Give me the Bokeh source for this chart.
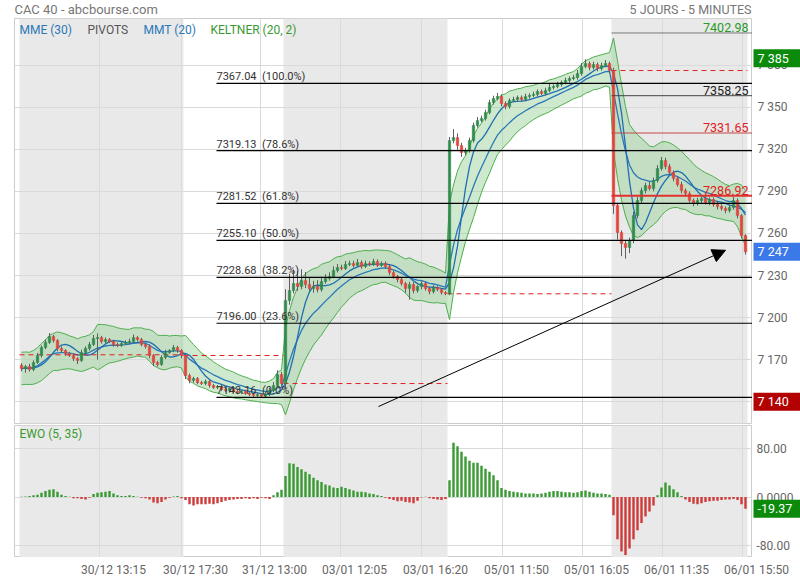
from bokeh.plotting import figure
from bokeh.models import (Range1d, FixedTicker, BoxAnnotation, Label, Arrow,
                          NormalHead, ColumnDataSource)
from bokeh.layouts import column, row
from bokeh.embed import file_html
from bokeh.resources import INLINE
from bokeh.core.properties import value

FONT = "Roboto"

# ---------------- data ----------------
day_sizes = [41, 25, 41, 41, 34]          # 5-minute bars per session (coarsened)
first_open = 7166.0
prev_close_first_day = 7173.5

close_d1 = [7163.7, 7165.1, 7163.0, 7168.0, 7173.0, 7178.7, 7182.3, 7186.5, 7183.7, 7178.0,
            7176.5, 7174.4, 7173.0, 7170.8, 7169.4, 7175.1, 7178.0, 7180.8, 7185.1, 7185.8,
            7183.0, 7184.4, 7183.0, 7180.8, 7180.1, 7181.5, 7182.3, 7183.0, 7185.8, 7184.4,
            7180.8, 7179.4, 7173.0, 7168.0, 7166.6, 7171.6, 7175.1, 7176.5, 7178.7, 7176.5,
            7173.0]
close_d2 = [7158.7, 7155.2, 7156.6, 7153.7, 7153.0, 7154.4, 7151.6, 7150.2, 7150.9, 7148.7,
            7148.0, 7149.5, 7147.3, 7146.6, 7147.3, 7145.9, 7145.2, 7144.5, 7145.2, 7144.0,
            7145.5, 7148.0, 7151.6, 7159.4, 7153.0]
close_d3 = [7212.2, 7219.3, 7224.3, 7222.2, 7226.5, 7223.6, 7220.8, 7222.2, 7220.0, 7225.7,
            7227.9, 7229.3, 7233.6, 7235.7, 7235.0, 7237.9, 7238.6, 7237.2, 7239.3, 7236.4,
            7238.6, 7237.9, 7240.0, 7237.2, 7238.6, 7236.4, 7232.2, 7229.3, 7227.2, 7224.3,
            7220.8, 7223.6, 7219.3, 7222.2, 7224.3, 7220.8, 7218.6, 7221.5, 7220.0, 7217.9,
            7217.0]
close_d4 = [7326.3, 7328.4, 7322.7, 7317.7, 7319.1, 7326.3, 7337.0, 7340.5, 7342.0, 7346.2,
            7353.4, 7356.2, 7357.7, 7352.7, 7350.5, 7354.8, 7355.5, 7356.9, 7355.5, 7357.7,
            7358.4, 7359.1, 7361.2, 7359.8, 7361.9, 7364.1, 7364.8, 7366.2, 7367.6, 7369.1,
            7370.5, 7371.2, 7374.1, 7379.0, 7381.2, 7378.3, 7380.5, 7377.6, 7379.8, 7381.2,
            7376.2]
close_d5 = [7280.0, 7260.7, 7252.8, 7250.0, 7255.0, 7272.8, 7283.5, 7290.6, 7294.2, 7292.1,
            7297.8, 7306.3, 7312.0, 7307.7, 7303.5, 7299.2, 7294.9, 7290.6, 7288.5, 7283.5,
            7281.4, 7283.5, 7284.9, 7282.1, 7284.2, 7280.6, 7279.2, 7277.8, 7276.4, 7278.5,
            7283.5, 7272.8, 7258.5, 7247.0]

# upper / lower wick lengths (points above / below the body)
wick_up = [1.5, 1.2, 2.0, 1.5, 1.8, 1.5, 2.0, 2.5, 1.2, 1.0, 1.5, 1.0, 1.2, 1.5, 1.0, 2.0, 1.5, 1.8, 2.5, 3.0,
           1.2, 1.5, 1.0, 1.2, 1.5, 1.0, 1.5, 2.0, 2.2, 1.0, 1.2, 1.0, 1.5, 1.0, 1.2, 1.5, 2.0, 1.0, 1.8, 1.2,
           1.0,
           1.0, 1.5, 1.2, 1.0, 1.2, 1.5, 1.0, 1.2, 1.0, 1.0, 1.5, 1.0, 1.2, 1.0, 1.0, 1.2, 1.0, 1.0, 1.2, 1.0,
           1.5, 2.0, 2.5, 3.0, 2.0,
           8.0, 12.0, 10.0, 9.0, 8.0, 6.0, 5.0, 4.0, 4.5, 3.5, 3.0, 3.0, 3.0, 2.5, 2.0, 2.5, 2.0, 2.0, 2.5, 1.5,
           2.0, 1.5, 2.0, 1.5, 1.5, 1.5, 1.2, 1.5, 1.2, 1.5, 1.2, 2.0, 1.5, 1.2, 1.5, 1.2, 1.0, 1.5, 1.2, 1.0,
           1.0,
           2.5, 6.0, 3.0, 2.0, 2.0, 2.0, 2.0, 2.5, 2.0, 2.0, 2.0, 2.0, 2.5, 1.5, 1.5, 1.5, 2.0, 1.5, 1.5, 2.0,
           1.5, 2.0, 1.5, 1.5, 2.0, 2.5, 1.5, 2.0, 1.5, 2.0, 1.5, 2.0, 2.5, 2.5, 3.0, 1.5, 2.0, 1.5, 2.0, 2.5,
           1.5,
           2.0, 1.5, 1.5, 2.0, 2.0, 2.5, 2.5, 2.0, 2.0, 2.5, 2.0, 2.5, 2.5, 2.0, 2.0, 1.5, 1.5, 2.0, 1.5, 1.5,
           1.5, 2.0, 1.5, 2.0, 1.5, 1.5, 2.0, 1.5, 1.5, 2.0, 2.5, 1.5, 1.0, 1.0]
wick_dn = [2.0, 3.0, 1.5, 1.2, 1.0, 1.5, 1.2, 1.0, 1.5, 2.0, 1.2, 1.5, 1.0, 1.8, 2.5, 1.0, 1.2, 1.5, 1.0, 15.0,
           1.5, 1.2, 1.0, 1.5, 1.2, 1.0, 1.0, 1.2, 1.0, 1.5, 1.2, 1.5, 2.0, 2.5, 1.5, 1.0, 1.2, 1.0, 1.2, 1.5,
           2.0,
           2.5, 2.0, 1.5, 1.2, 1.0, 1.2, 1.5, 1.0, 1.2, 1.0, 1.2, 1.5, 1.0, 1.2, 1.0, 1.0, 1.2, 1.0, 1.5, 0.8,
           1.0, 1.5, 1.2, 1.5, 1.5,
           4.0, 3.0, 2.0, 3.0, 2.0, 2.5, 2.0, 3.0, 2.0, 1.5, 1.5, 1.5, 1.2, 1.5, 1.2, 1.0, 1.2, 1.5, 1.0, 1.5,
           1.0, 1.2, 1.0, 1.2, 1.0, 1.5, 2.0, 1.5, 2.0, 1.5, 3.0, 8.0, 2.0, 1.5, 2.0, 1.5, 2.0, 1.5, 1.2, 1.5,
           1.0,
           1.0, 2.0, 3.0, 3.0, 2.0, 1.5, 1.5, 1.5, 1.2, 1.5, 1.2, 1.5, 1.2, 2.0, 2.0, 1.5, 1.2, 1.5, 1.5, 1.2,
           1.5, 1.2, 1.5, 1.2, 1.5, 1.2, 1.5, 1.2, 1.5, 1.2, 1.5, 1.2, 1.5, 1.5, 1.2, 2.0, 1.5, 2.0, 1.5, 1.2,
           2.0,
           6.0, 5.0, 9.0, 8.0, 4.0, 2.0, 2.0, 2.5, 2.0, 1.5, 2.0, 1.5, 1.5, 2.0, 1.5, 2.0, 1.5, 2.0, 2.0, 1.5,
           2.0, 1.5, 2.0, 1.5, 2.0, 1.5, 2.0, 1.5, 2.0, 1.5, 1.5, 2.0, 2.0, 2.0]

ewo = [0.5, 1, 2, 3, 4, 7, 10, 12, 13, 9, 4, 2, 0.5, -2, -2, -3, -4, -1, 5, 7,
       8, 9, 10, 6, 3, 2, 2, 3, 2, 0.5, -1, -2, -4, -9, -10, -8, -4, -1, 1, 2,
       -2,
       -5, -12, -14, -12, -12, -12, -11, -12, -10, -8, -6, -5, -4, -3, -3, -2, -3, -2, -3, -1,
       -2, -3, 3, 8, 12,
       35, 56, 55, 50, 46, 42, 38, 32, 28, 25, 21, 19, 16, 15, 17, 15, 13, 11, 9, 9,
       8, 6, 5, 3, 2, -1, -3, -5, -7, -6, -8, -9, -10, -6, -0.5, 0.5, -2, -3, -4, -5,
       -3,
       28, 90, 84, 75, 67, 60, 57, 57, 52, 47, 42, 36, 28, 15, 12, 10, 9, 8, 7, 6,
       6, 6, 5, 6, 7, 9, 10, 10, 9, 8, 8, 7, 8, 10, 11, 9, 7, 6, 6, 5,
       4,
       -30, -70, -90, -96, -85, -70, -55, -43, -32, -24, -14, 3, 16, 24, 19, 13, 8, 2, -4, -8,
       -11, -12, -10, -8, -7, -6, -6, -5, -4, -4, -3, -5, -12, -19.37]

fib_low = 7143.16
fib_high = 7367.04
fib_ratios = [1.0, 0.786, 0.618, 0.5, 0.382, 0.236, 0.0]

pivot_levels = [7402.98, 7358.25, 7331.65, 7286.92]

price_ticks = [7140, 7170, 7200, 7230, 7260, 7290, 7320, 7350, 7380]
ewo_ticks = [-80, 0, 80]
ewo_tick_labels = ["-80.00", "0.0000", "80.00"]

time_tick_bars = [19.5, 40, 59.75, 79.75, 100, 120.25, 140.25, 160.25, 180.25]
time_tick_labels = ["30/12 13:15", "30/12 17:30", "31/12 13:00", "03/01 12:05", "03/01 16:20",
                    "05/01 11:50", "05/01 16:05", "06/01 11:35", "06/01 15:50"]

title_left = "CAC 40 - abcbourse.com"
title_right = "5 JOURS - 5 MINUTES"
box_high = 7385
box_low = 7140
arrow_from = (89.25, 7136.6)
arrow_to = (176.0, 7248.0)

# ---------------- derived series ----------------
close = close_d1 + close_d2 + close_d3 + close_d4 + close_d5
n = len(close)
xs = list(range(n))
opens = [first_open] + close[:-1]
highs = [max(o, c) + u for o, c, u in zip(opens, close, wick_up)]
lows = [min(o, c) - d for o, c, d in zip(opens, close, wick_dn)]


def ema(vals, span):
    a = 2.0 / (span + 1.0)
    out = [vals[0]]
    for v in vals[1:]:
        out.append(out[-1] + a * (v - out[-1]))
    return out


def sma(vals, k):
    out = []
    for i in range(len(vals)):
        w = vals[max(0, i - k + 1):i + 1]
        out.append(sum(w) / len(w))
    return out


# periods rescaled to the coarser bar spacing used here
mme = ema(close, 12)                 # MME (30)
mmt = sma(sma(close, 4), 5)          # MMT (20)
tr = [highs[0] - lows[0]] + [max(highs[i] - lows[i], abs(highs[i] - close[i - 1]),
                                  abs(lows[i] - close[i - 1])) for i in range(1, n)]
atr = ema(tr, 13)
kc_mid = ema(close, 10)
kc_up = [m + 2 * a for m, a in zip(kc_mid, atr)]
kc_lo = [m - 2 * a for m, a in zip(kc_mid, atr)]

day_start = []
s = 0
for k in day_sizes:
    day_start.append(s)
    s += k
day_end = [a + k for a, k in zip(day_start, day_sizes)]
day_close = [close[e - 1] for e in day_end]
prev_close = [prev_close_first_day] + day_close[:-1]

# ---------------- styling / layout ----------------
GRID = "#dadada"
SHADE = "#e9e9e9"
UP = "#2f8a4c"
DOWN = "#e0443c"
BLUE = "#2a78b8"
GREEN = "#3a9a32"
TXT = "#666666"
PX = 4.0                       # pixels per bar
LEFT = 14                      # left border of the panels
MAIN_W = 752
SIDE_W = 48

xr = Range1d(-1.75, n + 0.75)
yr_main = Range1d(7124.5, 7413.3)
yr_ewo = Range1d(-100, 118.5)


def strip(w, h, xrng, yrng, top=0, bottom=0):
    f = figure(width=w, height=h, x_range=xrng, y_range=yrng, output_backend="svg",
               toolbar_location=None, tools="", x_axis_location=None, y_axis_location=None,
               min_border_left=0, min_border_right=0, min_border_top=top, min_border_bottom=bottom)
    f.outline_line_color = None
    f.grid.visible = False
    f.background_fill_color = "white"
    f.border_fill_color = "white"
    return f


def panel(h, yr, ticks, top, bottom):
    p = figure(width=MAIN_W, height=h, x_range=xr, y_range=yr, output_backend="svg",
               toolbar_location=None, tools="", x_axis_location=None, y_axis_location=None,
               min_border_left=LEFT, min_border_right=0, min_border_top=top, min_border_bottom=bottom)
    p.outline_line_color = "#cccccc"
    p.background_fill_color = "white"
    p.border_fill_color = "white"
    p.xgrid.ticker = FixedTicker(ticks=time_tick_bars)
    p.ygrid.ticker = FixedTicker(ticks=ticks)
    p.xgrid.grid_line_color = GRID
    p.ygrid.grid_line_color = GRID
    for d in (0, 2, 4):
        p.add_layout(BoxAnnotation(left=day_start[d] - 0.5, right=day_end[d] - 0.5,
                                   fill_color=SHADE, fill_alpha=1.0, line_color=None, level="image"))
    return p


# ---------------- header ----------------
head = strip(800, 18, Range1d(0, 800), Range1d(0, 18))
head.text(x=[LEFT], y=[9], text=[title_left], text_font=value(FONT), text_font_size="13px",
          text_color="#777777", text_baseline="middle", text_align="left")
head.text(x=[MAIN_W - 1], y=[9], text=[title_right], text_font=value(FONT), text_font_size="12.5px",
          text_color="#777777", text_baseline="middle", text_align="right")

# ---------------- main price panel ----------------
p1 = panel(406, yr_main, price_ticks, 0, 1)

p1.varea(x=xs, y1=kc_lo, y2=kc_up, fill_color="#9fd39f", fill_alpha=0.5)
p1.line(xs, kc_up, color="#4cae4c", line_width=1)
p1.line(xs, kc_lo, color="#4cae4c", line_width=1)
p1.line(xs, mme, color=BLUE, line_width=1.3)
p1.line(xs, mmt, color="#1f6fb0", line_width=1.3)

p1.segment(x0=[a - 0.5 for a in day_start], x1=[e - 0.5 for e in day_end],
           y0=prev_close, y1=prev_close, line_color="#e02020", line_width=1, line_dash="5 4")

csrc = ColumnDataSource(dict(
    x=xs, h=highs, l=lows,
    top=[max(o, c) for o, c in zip(opens, close)],
    bot=[min(o, c) for o, c in zip(opens, close)],
    col=[UP if c >= o else DOWN for o, c in zip(opens, close)]))
p1.segment(x0="x", x1="x", y0="l", y1="h", source=csrc, line_color="#5e5e5e", line_width=1)
p1.vbar(x="x", top="top", bottom="bot", width=0.62, fill_color="col", line_color="col",
        line_width=0.5, source=csrc)

fib_x0 = 48.75
fib_levels = [fib_low + r * (fib_high - fib_low) for r in fib_ratios]
fib_text = [f"{v:.2f}\u2002({r * 100:.1f}%)" for v, r in zip(fib_levels, fib_ratios)]
p1.segment(x0=[fib_x0] * len(fib_levels), x1=[xr.end] * len(fib_levels), y0=fib_levels, y1=fib_levels,
           line_color="black", line_width=1.2)
p1.text(x=[fib_x0] * len(fib_levels), y=fib_levels, text=fib_text, text_font=value(FONT),
        text_font_size="11px", text_color="#333333", text_baseline="bottom", text_align="left")

pv_x0 = day_start[4] - 0.5
pv_line_col = ["#777777", "#444444", "#c04848", "#e23030"]
pv_line_w = [1, 1, 1, 2]
pv_txt_col = ["#2a9a2a", "#222222", "#e02020", "#e02020"]
p1.segment(x0=[pv_x0] * 4, x1=[xr.end] * 4, y0=pivot_levels, y1=pivot_levels,
           line_color=pv_line_col, line_width=pv_line_w)
p1.text(x=[day_end[4] - 0.25] * 4, y=pivot_levels, text=[f"{v:.2f}" for v in pivot_levels],
        text_font=value(FONT), text_font_size="12.5px", text_color=pv_txt_col,
        text_baseline="bottom", text_align="right", y_offset=-1)

p1.add_layout(Arrow(x_start=arrow_from[0], y_start=arrow_from[1], x_end=arrow_to[0], y_end=arrow_to[1],
                    line_color="black", line_width=1,
                    end=NormalHead(size=13, fill_color="black", line_color="black")))

legend_items = [("MME (30)", BLUE, 5), ("PIVOTS", "#555555", 73), ("MMT (20)", BLUE, 129),
                ("KELTNER (20, 2)", GREEN, 196)]
for txt, col, off in legend_items:
    p1.add_layout(Label(x=xr.start, y=yr_main.end, x_offset=off, y_offset=-11, text=txt, text_color=col,
                        text_font=FONT, text_font_size="12px", text_baseline="middle"))

# right price scale
side1 = strip(SIDE_W, 406, Range1d(0, SIDE_W), yr_main, 0, 1)
side1.text(x=[5] * len(price_ticks), y=price_ticks,
           text=[f"{t:,}".replace(",", " ") for t in price_ticks], text_font=value(FONT),
           text_font_size="12px", text_color=TXT, text_baseline="middle", text_align="left")
box_vals = [box_high, close[-1], box_low]
box_cols = ["#0b8a0b", "#3b78e8", "#b30000"]
side1.rect(x=[SIDE_W / 2 + 0.5] * 3, y=box_vals, width=SIDE_W - 1, height=18, height_units="screen",
           fill_color=box_cols, line_color=None)
side1.text(x=[5] * 3, y=box_vals, text=[f"{round(v):,}".replace(",", " ") for v in box_vals],
           text_font=value(FONT), text_font_size="12.5px", text_color="white",
           text_baseline="middle", text_align="left")

# ---------------- EWO panel ----------------
p2 = panel(133, yr_ewo, ewo_ticks, 1, 0)
esrc = ColumnDataSource(dict(x=xs, top=ewo, col=[GREEN if v >= 0 else "#d03a3a" for v in ewo]))
p2.vbar(x="x", top="top", bottom=0, width=0.6, fill_color="col", line_color=None, source=esrc)
p2.add_layout(Label(x=xr.start, y=yr_ewo.end, x_offset=5, y_offset=-8, text="EWO (5, 35)", text_color=GREEN,
                    text_font=FONT, text_font_size="12px", text_baseline="middle"))

side2 = strip(SIDE_W, 133, Range1d(0, SIDE_W), yr_ewo, 1, 0)
side2.text(x=[4] * 3, y=ewo_ticks, text=ewo_tick_labels, text_font=value(FONT),
           text_font_size="12px", text_color=TXT, text_baseline="middle", text_align="left")
side2.rect(x=[SIDE_W / 2 + 0.5], y=[ewo[-1]], width=SIDE_W - 1, height=18, height_units="screen",
           fill_color="#0b8a0b", line_color=None)
side2.text(x=[5], y=[ewo[-1]], text=[f"{ewo[-1]:.2f}"], text_font=value(FONT), text_font_size="12.5px",
           text_color="white", text_baseline="middle", text_align="left")

# ---------------- time axis ----------------
foot_start = xr.start - LEFT / PX
foot = strip(800, 23, Range1d(foot_start, foot_start + 800 / PX), Range1d(0, 23))
foot.text(x=time_tick_bars, y=[11] * len(time_tick_bars), text=time_tick_labels, x_offset=14,
          text_font=value(FONT), text_font_size="12px", text_color=TXT,
          text_baseline="middle", text_align="center")

layout = column(head, row(p1, side1, spacing=0), row(p2, side2, spacing=0), foot, spacing=0)
open("out.html", "w").write(file_html(layout, INLINE, "CAC 40"))
